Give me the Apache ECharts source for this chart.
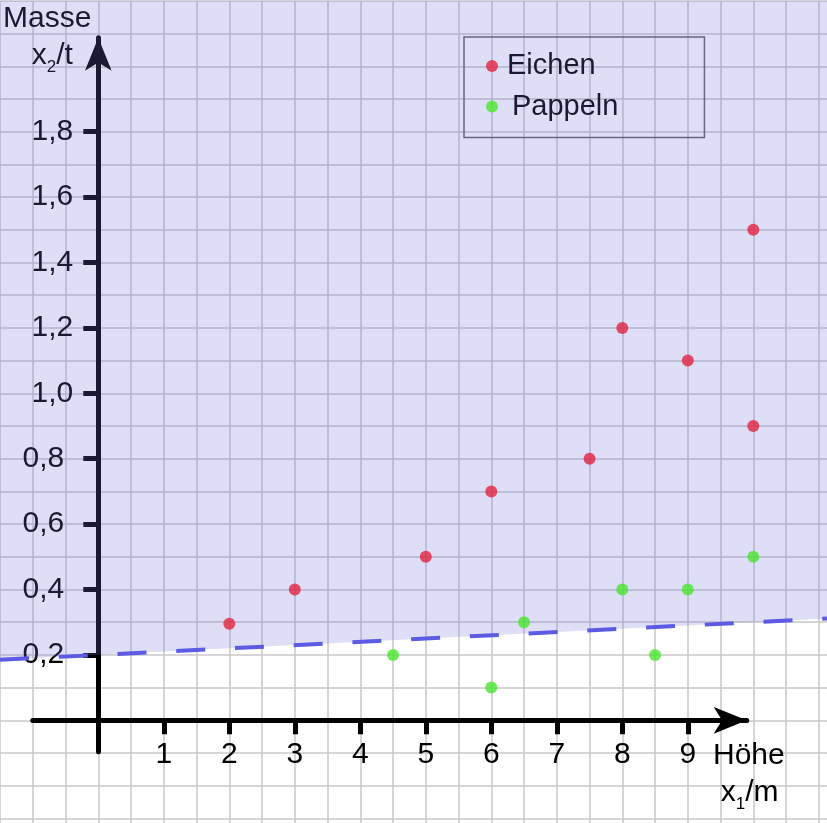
<!DOCTYPE html>
<html>
<head>
<meta charset="utf-8">
<script src="https://cdn.jsdelivr.net/npm/echarts@6/dist/echarts.min.js"></script>
<style>
  html, body { margin: 0; padding: 0; background: #ffffff; }
  #chart { width: 827px; height: 823px; }
</style>
</head>
<body>
<div id="chart"></div>
<script>
// ---- data ----
const eichenX = [2, 3, 5, 6, 7.5, 8, 9, 10, 10];
const eichenY = [0.295, 0.4, 0.5, 0.7, 0.8, 1.2, 1.1, 1.5, 0.9];
const pappelnX = [4.5, 6, 6.5, 8, 8.5, 9, 10];
const pappelnY = [0.2, 0.1, 0.3, 0.4, 0.2, 0.4, 0.5];
const boundaryX = [-1.5, 11.5];
const boundaryY = [0.185, 0.315];
const xTicks = [1, 2, 3, 4, 5, 6, 7, 8, 9];
const yTicks = [0.2, 0.4, 0.6, 0.8, 1.0, 1.2, 1.4, 1.6, 1.8];
const seriesNames = ['Eichen', 'Pappeln'];

// ---- layout ----
const FONT = 'Liberation Sans';
const FS = 30;
const pxPerX = 65.5, pxPerY = 327;
const originPx = [98.3, 720.3];
const gridX = [-1.5, 11.5], gridY = [-0.5, 2.2];
const axX = [-1, 9.9], axY = [-0.096, 2.087];

function gridBox(xr, yr) {
  return {
    left: originPx[0] + xr[0] * pxPerX,
    top: originPx[1] - yr[1] * pxPerY,
    width: (xr[1] - xr[0]) * pxPerX,
    height: (yr[1] - yr[0]) * pxPerY,
    containLabel: false,
    outerBoundsMode: 'none'
  };
}

const chart = echarts.init(document.getElementById('chart'), null, { renderer: 'canvas' });

const zip = (xs, ys) => xs.map((x, i) => [x, ys[i]]);

const textStyleBase = { fontFamily: FONT, fontSize: FS, fill: '#000', lineHeight: 40 };
const richSub = {
  a: { fontFamily: FONT, fontSize: FS, lineHeight: 40, fill: '#000' },
  s: { fontFamily: FONT, fontSize: 17, lineHeight: 20, verticalAlign: 'bottom', fill: '#000' }
};

const option = {
  animation: false,
  backgroundColor: '#ffffff',
  grid: [gridBox(gridX, gridY), gridBox(axX, axY)],
  xAxis: [
    {
      type: 'value', gridIndex: 0, min: gridX[0], max: gridX[1], interval: 0.5,
      axisLine: { show: false }, axisTick: { show: false }, axisLabel: { show: false },
      splitLine: { show: true, lineStyle: { color: '#c8c8c8', width: 1.5 } }
    },
    {
      type: 'value', gridIndex: 1, min: axX[0], max: axX[1],
      axisLine: { show: true, onZero: true, symbol: ['none', 'arrow'], symbolSize: [20, 33],
        lineStyle: { color: '#000', width: 5 } },
      axisTick: { show: true, customValues: xTicks, length: 14, lineStyle: { color: '#000', width: 5 } },
      axisLabel: { show: true, customValues: xTicks, margin: -11.5, color: '#000',
        fontFamily: FONT, fontSize: FS, formatter: v => String(v) },
      splitLine: { show: false }
    }
  ],
  yAxis: [
    {
      type: 'value', gridIndex: 0, min: gridY[0], max: gridY[1], interval: 0.1,
      axisLine: { show: false }, axisTick: { show: false }, axisLabel: { show: false },
      splitLine: { show: true, lineStyle: { color: '#c8c8c8', width: 1.5 } }
    },
    {
      type: 'value', gridIndex: 1, min: axY[0], max: axY[1],
      axisLine: { show: true, onZero: true, symbol: ['none', 'arrow'], symbolSize: [20, 33],
        lineStyle: { color: '#000', width: 5 } },
      axisTick: { show: true, customValues: yTicks, length: 15, lineStyle: { color: '#000', width: 5 } },
      axisLabel: { show: true, customValues: yTicks, margin: -40.5, color: '#000',
        fontFamily: FONT, fontSize: FS,
        formatter: v => {
          const s = Number(v).toFixed(1).replace('.', ',');
          return v < 1 ? '{lo|' + s + '}' : '{hi|' + s + '}';
        },
        rich: {
          lo: { fontFamily: FONT, fontSize: FS, color: '#000', padding: [0, 9, 0, 0] },
          hi: { fontFamily: FONT, fontSize: FS, color: '#000' }
        }
      },
      splitLine: { show: false }
    }
  ],
  legend: {
    data: [
      { name: seriesNames[0], textStyle: { padding: [0, 0, 0, 4] } },
      { name: seriesNames[1], textStyle: { padding: [0, 0, 0, 9] } }
    ],
    orient: 'vertical',
    left: 464, top: 37,
    padding: [14.5, 86, 16.5, 22],
    itemGap: 11.5,
    itemWidth: 12, itemHeight: 12,
    icon: 'circle',
    borderColor: '#66667c', borderWidth: 1.5, borderRadius: 0,
    backgroundColor: 'transparent',
    textStyle: { fontFamily: FONT, fontSize: 29, color: '#1a1a33' },
    selectedMode: false
  },
  graphic: {
    elements: [
      { type: 'text', z: 1, x: 3, y: -1, style: Object.assign({ text: 'Masse', verticalAlign: 'top', align: 'left' }, textStyleBase) },
      { type: 'text', z: 1, x: 31.7, y: 35.7, style: { text: '{a|x}{s|2}{a|/t}', rich: richSub, verticalAlign: 'top', align: 'left', fontFamily: FONT, fontSize: FS, lineHeight: 40 } },
      { type: 'text', z: 1, x: 713, y: 735.7, style: Object.assign({ text: 'Höhe', verticalAlign: 'top', align: 'left' }, textStyleBase) },
      { type: 'text', z: 1, x: 720.7, y: 772.4, style: { text: '{a|x}{s|1}{a|/m}', rich: richSub, verticalAlign: 'top', align: 'left', fontFamily: FONT, fontSize: FS, lineHeight: 40 } }
    ]
  },
  series: [
    {
      name: 'Grenze', type: 'line', xAxisIndex: 0, yAxisIndex: 0, z: 2,
      data: zip(boundaryX, boundaryY),
      showSymbol: false, symbol: 'none', silent: true,
      lineStyle: { color: '#5b5be3', width: 4, type: [29, 29.8], dashOffset: 0 },
      areaStyle: { origin: 'end', color: 'rgba(113,113,222,0.23)', opacity: 1 },
      clip: true
    },
    {
      name: seriesNames[0], type: 'scatter', xAxisIndex: 0, yAxisIndex: 0, z: 3,
      data: zip(eichenX, eichenY), symbol: 'circle', symbolSize: 12,
      itemStyle: { color: '#e2233f' }
    },
    {
      name: seriesNames[1], type: 'scatter', xAxisIndex: 0, yAxisIndex: 0, z: 3,
      data: zip(pappelnX, pappelnY), symbol: 'circle', symbolSize: 12,
      itemStyle: { color: '#4ae52e' }
    }
  ]
};

chart.setOption(option);
</script>
</body>
</html>
